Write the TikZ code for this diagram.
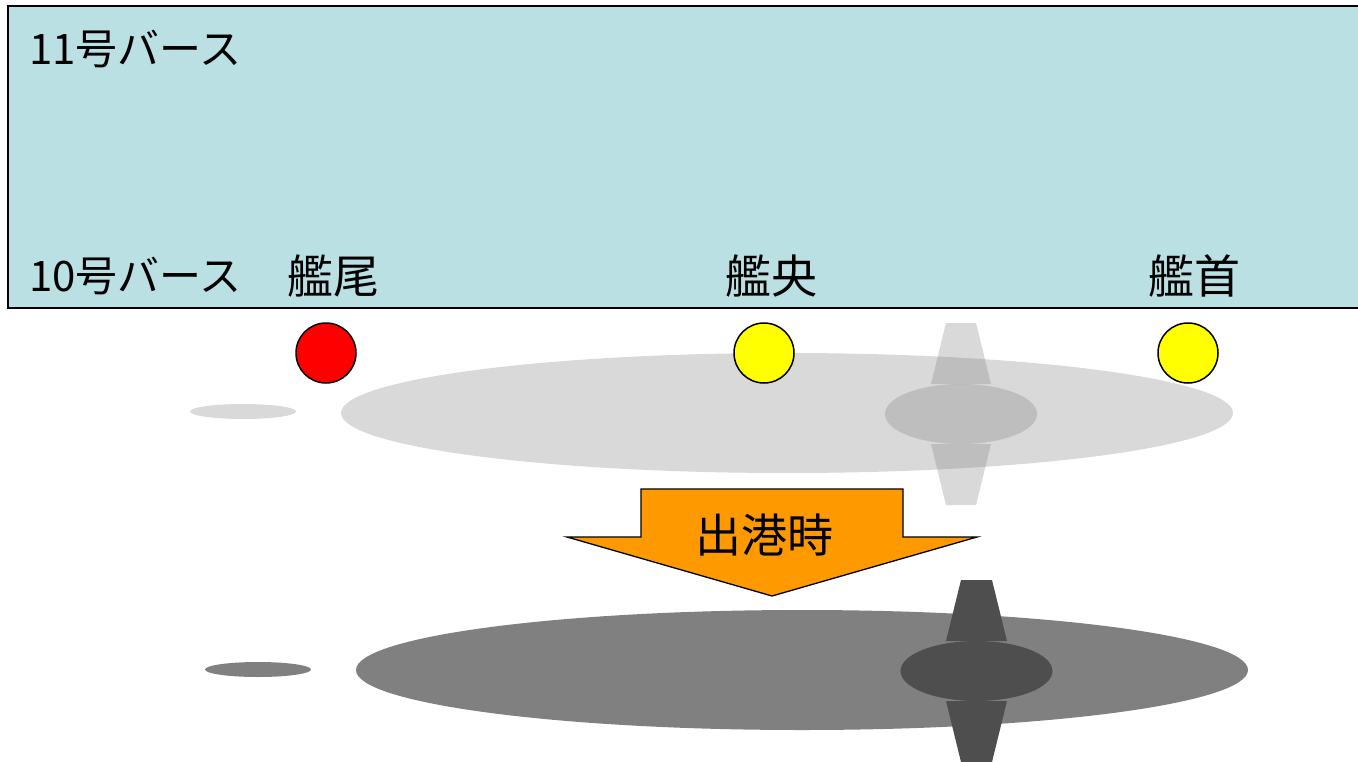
\documentclass[tikz,border=0pt]{standalone}
\usepackage{fontspec}
\newfontfamily\jp{Noto Sans CJK JP}
\definecolor{berth}{RGB}{186,224,227}
\definecolor{hullgray}{RGB}{128,128,128}
\definecolor{propgray}{RGB}{78,78,78}
\definecolor{arroworange}{RGB}{255,153,0}
\definecolor{markred}{RGB}{255,0,0}
\definecolor{markyellow}{RGB}{255,255,0}
\tikzset{
  lbl/.style={font=\jp\fontsize{42}{46}\selectfont, inner sep=0pt},
  biglbl/.style={font=\jp\fontsize{46}{50}\selectfont, inner sep=0pt},
  marker/.style={circle, draw=black, line width=1.5pt, minimum size=60pt, inner sep=0pt},
  ghost/.style={fill=hullgray, fill opacity=0.3},
}
\begin{document}
\begin{tikzpicture}[x=1pt,y=-1pt]
\useasboundingbox (0,0) rectangle (1358,761);

% berth area
\draw[fill=berth, line width=1.5pt] (8,6) rectangle (1366,308);
\node[lbl, anchor=west] (b11) at (29,49) {11号バース};
\node[lbl, anchor=west] (b10) at (29,276) {10号バース};
\node[biglbl] (stern) at (333,276) {艦尾};
\node[biglbl] (mid) at (771,276) {艦央};
\node[biglbl] (bow) at (1194,276) {艦首};

% ship before departure (translucent)
\fill[ghost] (243,411.5) ellipse [x radius=53, y radius=7.5];
\fill[ghost] (787,413) ellipse [x radius=446, y radius=60];
\fill[ghost] (946,323) -- (976,323) -- (991,384) -- (931,384) -- cycle;
\fill[ghost] (931,444) -- (991,444) -- (976,505) -- (946,505) -- cycle;
\fill[ghost] (961,414) ellipse [x radius=76, y radius=30];

% position markers
\node[marker, fill=markred] (mstern) at (326,353) {};
\node[marker, fill=markyellow] (mmid) at (764,353) {};
\node[marker, fill=markyellow] (mbow) at (1188,353) {};

% departure arrow
\node[draw=none, inner sep=0pt, minimum size=0pt] (arrtip) at (772,596) {};
\draw[fill=arroworange, line width=1.3pt, line join=miter]
  (641,489) -- (903,489) -- (903,537) -- (977,537) -- (arrtip.center)
  -- (567,537) -- (641,537) -- cycle;
\node[biglbl] (dep) at (764,535) {出港時};

% ship at departure
\fill[hullgray] (258,669.5) ellipse [x radius=53, y radius=7.5];
\fill[hullgray] (802,670) ellipse [x radius=446, y radius=60];
\fill[propgray] (961,580) -- (992,580) -- (1007,641) -- (946,641) -- cycle;
\fill[propgray] (946,701) -- (1007,701) -- (992,762) -- (961,762) -- cycle;
\fill[propgray] (976.5,671) ellipse [x radius=76, y radius=30];
\end{tikzpicture}
\end{document}
